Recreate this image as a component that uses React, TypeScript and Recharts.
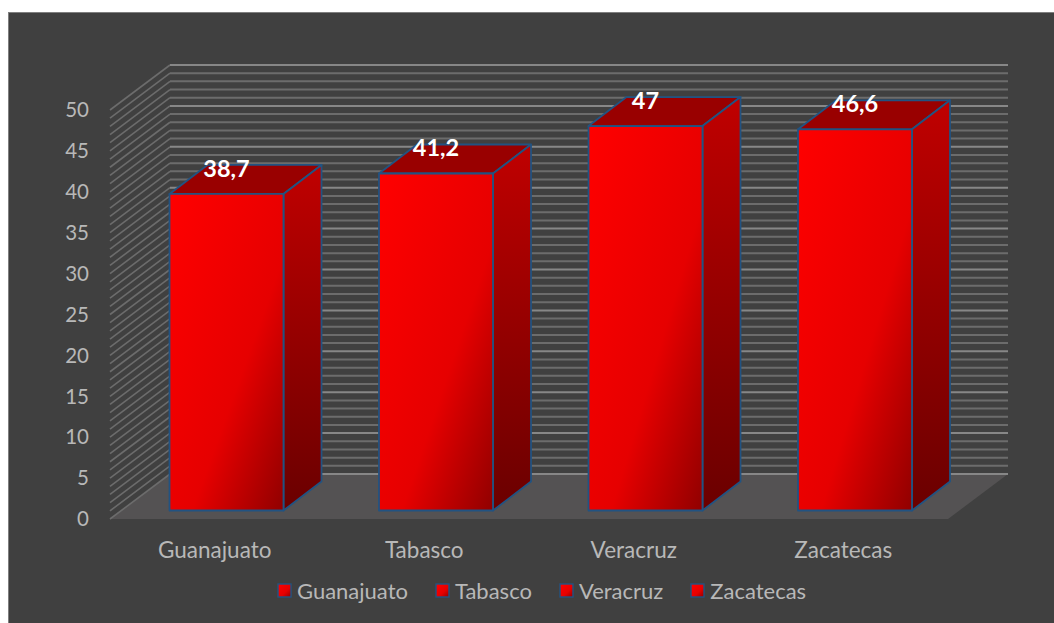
import { BarChart, Bar, XAxis, YAxis, CartesianGrid, LabelList, Legend } from 'recharts';

const estados = ['Guanajuato', 'Tabasco', 'Veracruz', 'Zacatecas'];
const valores = [38.7, 41.2, 47, 46.6];
const yTicks = [0, 5, 10, 15, 20, 25, 30, 35, 40, 45, 50];
const gridValues = Array.from({ length: 51 }, (_, i) => i);

const data = estados.map((name, i) => ({ name, value: valores[i] }));

const FONT = 'Lato, sans-serif';
const EDGE = '#215382';
const TEXT = '#b8b8b8';

// 3d look: wall depth and bar offset/depth, in px
const WALL_DX = 60;
const WALL_DY = -45;
const BAR_SHIFT_X = 11.5;
const BAR_SHIFT_Y = -8.5;
const BAR_DX = 38;
const BAR_DY = -29;

function GridLine(props: any) {
  const { x1, x2, y1, index } = props;
  const major = gridValues[index] % 5 === 0;
  const color = major ? '#878787' : '#6c6c6c';
  const yb = y1 + WALL_DY;
  return (
    <g key={props.key}>
      {gridValues[index] === 0 && (
        <polygon
          points={`${x1},${y1} ${x1 + WALL_DX},${yb} ${x2 + WALL_DX},${yb} ${x2},${y1}`}
          fill="#545253"
        />
      )}
      <line x1={x1} y1={y1} x2={x1 + WALL_DX} y2={yb} stroke="#6c6c6c" strokeWidth={1.6} />
      <line x1={x1 + WALL_DX} y1={yb} x2={x2 + WALL_DX} y2={yb} stroke={color} strokeWidth={2} />
    </g>
  );
}

function Box(props: any) {
  const { x, y, width, height } = props;
  const l = x + BAR_SHIFT_X;
  const r = l + width;
  const t = y + BAR_SHIFT_Y;
  const b = t + height;
  return (
    <g stroke={EDGE} strokeWidth={1.8} strokeLinejoin="round">
      <polygon
        points={`${l},${t} ${l + BAR_DX},${t + BAR_DY} ${r + BAR_DX},${t + BAR_DY} ${r},${t}`}
        fill="#990000"
      />
      <polygon
        points={`${r},${t} ${r + BAR_DX},${t + BAR_DY} ${r + BAR_DX},${b + BAR_DY} ${r},${b}`}
        fill="url(#sideFill)"
      />
      <rect x={l} y={t} width={width} height={height} fill="url(#frontFill)" />
    </g>
  );
}

function ValueLabel(props: any) {
  const { x, y, width, value } = props;
  return (
    <text
      x={x + width / 2 + BAR_SHIFT_X}
      y={y + BAR_SHIFT_Y - 26}
      textAnchor="middle"
      dominantBaseline="central"
      fill="#ffffff"
      fontFamily={FONT}
      fontWeight={700}
      fontSize={23.5}
    >
      {String(value).replace('.', ',')}
    </text>
  );
}

function LegendBox() {
  return (
    <div style={{ display: 'flex', alignItems: 'center', fontFamily: FONT, fontSize: 22, color: TEXT }}>
      {estados.map((name, i) => (
        <div key={name} style={{ display: 'flex', alignItems: 'center', marginLeft: i === 0 ? 0 : 27 }}>
          <svg width={15} height={15} style={{ marginRight: 5 }}>
            <rect x={1} y={1} width={13} height={13} fill="url(#legendFill)" stroke={EDGE} strokeWidth={1.4} />
          </svg>
          {name}
        </div>
      ))}
    </div>
  );
}

export default function App() {
  return (
    <div style={{ position: 'fixed', left: 0, top: 0, width: 1054, height: 623, overflow: 'hidden', background: '#fff' }}>
      {/* what is left of the cut off caption above the panel */}
      <div style={{ fontFamily: '"Liberation Serif", serif', fontSize: 21, color: '#000', lineHeight: '21px' }}>
        <span style={{ position: 'absolute', left: 250, top: -22 }}>p</span>
        <span style={{ position: 'absolute', left: 336, top: -22 }}>y</span>
        <span style={{ position: 'absolute', left: 633, top: -22 }}>(%)</span>
      </div>
      <div
        style={{
          position: 'absolute',
          left: 8,
          top: 12,
          width: 1060,
          height: 625,
          background: '#404040',
          border: '1.5px solid #7f7f7f',
        }}
      />
      <div style={{ position: 'absolute', left: 0, top: 0 }}>
        <BarChart
          width={1054}
          height={623}
          data={data}
          barSize={114}
          margin={{ top: 110, right: 106, bottom: 74, left: 50 }}
        >
          <defs>
            <linearGradient id="frontFill" x1="0" y1="0" x2="1" y2="1">
              <stop offset="0" stopColor="#ff0000" />
              <stop offset="0.6" stopColor="#e60000" />
              <stop offset="1" stopColor="#900000" />
            </linearGradient>
            <linearGradient id="sideFill" x1="0" y1="0" x2="0" y2="1">
              <stop offset="0" stopColor="#c00000" />
              <stop offset="1" stopColor="#6a0000" />
            </linearGradient>
            <linearGradient id="legendFill" x1="0" y1="0" x2="1" y2="1">
              <stop offset="0" stopColor="#ff0000" />
              <stop offset="0.6" stopColor="#e60000" />
              <stop offset="1" stopColor="#900000" />
            </linearGradient>
          </defs>
          <CartesianGrid horizontalValues={gridValues} vertical={false} horizontal={GridLine} />
          <XAxis
            dataKey="name"
            axisLine={false}
            tickLine={false}
            tickSize={0}
            tickMargin={23}
            tick={{ fill: TEXT, fontSize: 22.5, fontFamily: FONT }}
          />
          <YAxis
            width={60}
            domain={[0, 50]}
            ticks={yTicks}
            interval={0}
            axisLine={false}
            tickLine={false}
            tickSize={0}
            tickMargin={21}
            tick={{ fill: TEXT, fontSize: 20.5, fontFamily: FONT }}
          />
          <Bar dataKey="value" shape={Box} isAnimationActive={false}>
            <LabelList dataKey="value" content={ValueLabel} />
          </Bar>
          <Legend
            layout="horizontal"
            align="center"
            verticalAlign="middle"
            content={LegendBox}
            wrapperStyle={{ left: 277, top: 577, width: 560 }}
          />
        </BarChart>
      </div>
    </div>
  );
}
